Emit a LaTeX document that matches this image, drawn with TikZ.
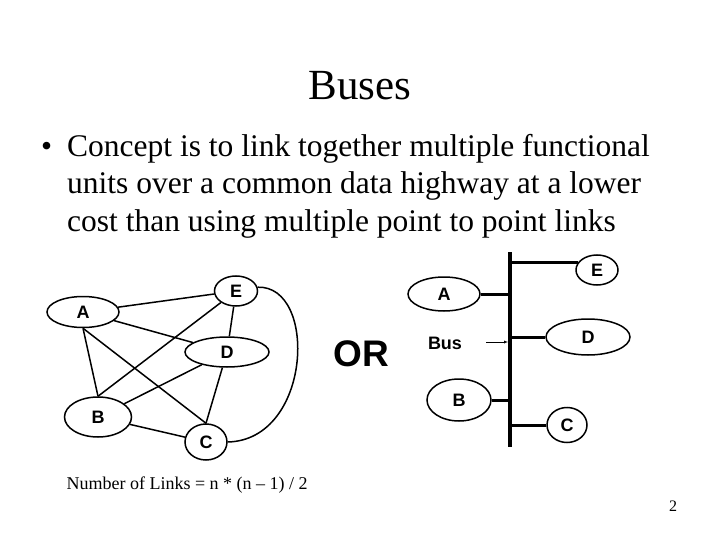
\documentclass[tikz,border=0pt]{standalone}
\usepackage{fontspec}
\setmainfont{Liberation Serif}
\setsansfont{Liberation Sans}
\usetikzlibrary{arrows, positioning, shapes.geometric}

\begin{document}
\begin{tikzpicture}[x=1pt, y=-1pt,
    unit/.style={ellipse, draw=black, line width=1.5pt, inner sep=0pt, font=\sffamily\bfseries\fontsize{18}{18}\selectfont},
    link/.style={draw=black, line width=1.5pt},
    branch/.style={draw=black, line width=3pt},
    busline/.style={draw=black, line width=4pt}]
  \useasboundingbox (0, 0) rectangle (720, 540);

  \node[anchor=base, font=\fontsize{43}{43}\selectfont] (title) at (360, 100) {Buses};
  \node[anchor=base west, inner sep=0pt, font=\fontsize{31.5}{37}\selectfont] (bullet) at (41, 157) {\textbullet};
  \node[anchor=base west, align=left, inner sep=0pt, font=\fontsize{31.5}{37}\selectfont] (body) at (67, 231)
    {Concept is to link together multiple functional\\units over a common data highway at a lower\\cost than using multiple point to point links};

  \node[unit, minimum width=72pt, minimum height=31pt] (A) at (83, 312) {A};
  \node[unit, minimum width=43pt, minimum height=30pt] (E) at (236, 291) {E};
  \node[unit, minimum width=84pt, minimum height=30pt] (D) at (227, 352) {D};
  \node[unit, minimum width=67pt, minimum height=40pt] (B) at (98, 417) {B};
  \node[unit, minimum width=42pt, minimum height=36pt] (C) at (206, 442) {C};

  \draw[link] (A) -- (E);
  \draw[link] (A) -- (D);
  \draw[link] (A.south) -- (B.north);
  \draw[link] (A.south) -- (C.north);
  \draw[link] (E) -- (B.north);
  \draw[link] (E) -- (D);
  \draw[link] (D) -- (B);
  \draw[link] (D) -- (C.north);
  \draw[link] (B) -- (C);
  \draw[link] (E.10) .. controls (318, 285) and (312, 440) .. (C.east);

  \node[font=\sffamily\bfseries\fontsize{37}{37}\selectfont] (or) at (361, 354) {OR};

  \coordinate (bustop) at (510, 252);
  \coordinate (busbot) at (510, 447);
  \draw[busline] (bustop) -- (busbot);

  \node[unit, minimum width=42pt, minimum height=30pt] (E2) at (597, 270) {E};
  \node[unit, minimum width=72pt, minimum height=34pt] (A2) at (444, 294) {A};
  \node[unit, minimum width=84pt, minimum height=36pt] (D2) at (588, 337) {D};
  \node[unit, minimum width=64pt, minimum height=42pt] (B2) at (459, 400) {B};
  \node[unit, minimum width=40pt, minimum height=35pt] (C2) at (567, 425) {C};
  \node[font=\sffamily\bfseries\fontsize{18}{18}\selectfont] (bus) at (445, 343) {Bus};

  \draw[branch] (E2.160) -- (E2.160 -| bustop);
  \draw[branch] (A2.east) -- (A2.east -| bustop);
  \draw[branch] (D2.west) -- (D2.west -| bustop);
  \draw[branch] (B2.east) -- (B2.east -| bustop);
  \draw[branch] (C2.west) -- (C2.west -| bustop);
  \draw[-latex, thin] (486, 342) -- (508, 342);

  \node[anchor=base west, font=\fontsize{18}{18}\selectfont] (links) at (63, 489) {Number of Links = n * (n -- 1) / 2};
  \node[anchor=base, font=\fontsize{16}{16}\selectfont] (page) at (673, 511) {2};
\end{tikzpicture}
\end{document}
